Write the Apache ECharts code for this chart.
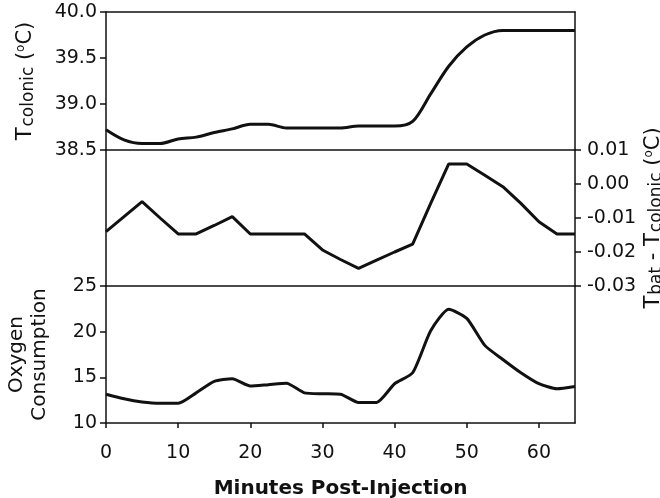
<!DOCTYPE html>
<html>
<head>
<meta charset="utf-8">
<script src="https://cdn.jsdelivr.net/npm/echarts@6/dist/echarts.min.js"></script>
<style>
html,body{margin:0;padding:0;background:#fff;}
#c{width:660px;height:498px;}
</style>
</head>
<body>
<div id="c"></div>
<script>
// ---- data ----
const minutes = [0, 2.5, 5, 7.5, 10, 12.5, 15, 17.5, 20, 22.5, 25, 27.5, 30, 32.5, 35, 37.5, 40, 42.5, 45, 47.5, 50, 52.5, 55, 57.5, 60, 62.5, 65];
const tColonic = [38.72, 38.61, 38.57, 38.57, 38.62, 38.64, 38.69, 38.73, 38.78, 38.78, 38.74, 38.74, 38.74, 38.74, 38.76, 38.76, 38.76, 38.81, 39.11, 39.41, 39.62, 39.75, 39.80, 39.80, 39.80, 39.80, 39.80];
const tBatMinusColonic = [-0.0140, -0.0096, -0.0052, -0.0100, -0.0147, -0.0147, -0.0122, -0.0096, -0.0147, -0.0147, -0.0147, -0.0147, -0.0194, -0.0222, -0.0248, -0.0224, -0.0200, -0.0177, -0.0057, 0.0059, 0.0059, 0.0026, -0.0008, -0.0057, -0.0111, -0.0147, -0.0147];
const oxygen = [13.15, 12.65, 12.30, 12.15, 12.15, 13.30, 14.55, 14.85, 14.05, 14.20, 14.35, 13.30, 13.20, 13.15, 12.25, 12.25, 14.30, 15.50, 20.10, 22.45, 21.45, 18.50, 16.95, 15.50, 14.30, 13.75, 14.00];

const xTicks = [0, 10, 20, 30, 40, 50, 60];
const xRange = [0, 65];
const tColonicTicks = [38.5, 39.0, 39.5, 40.0];
const tDiffTicks = [-0.03, -0.02, -0.01, 0.00, 0.01];
const oxygenTicks = [10, 15, 20, 25];

const xTitle = 'Minutes Post-Injection';
const topTitle = '{m|T}{s|colonic}{m| (}{p|o}{m|C)}';
const midTitle = '{m|T}{s|bat}{m| - T}{s|colonic}{m| (}{p|o}{m|C)}';
const botTitle = 'Oxygen\nConsumption';

// ---- styles ----
const INK = '#111';
const FONT = 'DejaVu Sans';
const AX = {lineStyle: {color: INK, width: 1.5}};
const richName = {
  m: {fontSize: 21, fontFamily: FONT, color: INK},
  s: {fontSize: 17, fontFamily: FONT, color: INK, padding: [6, 0, 0, 1]},
  p: {fontSize: 12, fontFamily: FONT, color: INK, padding: [0, 0, 10, 0]}
};

function plainX(grid, pos) {
  return {type: 'value', gridIndex: grid, position: pos, min: xRange[0], max: xRange[1],
    axisLine: {show: true, onZero: false, ...AX}, axisTick: {show: false}, axisLabel: {show: false}, splitLine: {show: false}};
}
function plainY(grid, pos, ticks) {
  return {type: 'value', gridIndex: grid, position: pos, min: ticks[0], max: ticks[ticks.length - 1],
    axisLine: {show: true, onZero: false, ...AX}, axisTick: {show: false}, axisLabel: {show: false}, splitLine: {show: false}};
}
function tickY(grid, pos, ticks, digits, margin) {
  return {type: 'value', gridIndex: grid, position: pos, min: ticks[0], max: ticks[ticks.length - 1],
    axisLine: {show: true, onZero: false, ...AX},
    axisTick: {show: true, length: 6, inside: false, customValues: ticks, lineStyle: {color: INK, width: 1.5}},
    axisLabel: {show: true, customValues: ticks, margin: margin, fontSize: 19, fontFamily: FONT, color: INK,
      formatter: v => (Math.abs(v) < 1e-9 ? 0 : v).toFixed(digits)},
    splitLine: {show: false}};
}

const chart = echarts.init(document.getElementById('c'), null, {renderer: 'canvas'});

const yTop = tickY(0, 'left', tColonicTicks, 1, 9);
Object.assign(yTop, {name: topTitle, nameLocation: 'middle', nameRotate: 90, nameGap: 69, nameMoveOverlap: false,
  nameTextStyle: {rich: richName}});
const yMid = tickY(1, 'right', tDiffTicks, 2, 12);
Object.assign(yMid, {name: midTitle, nameLocation: 'middle', nameRotate: 90, nameGap: 67, nameMoveOverlap: false,
  nameTextStyle: {rich: richName}});
const yBot = tickY(2, 'left', oxygenTicks, 0, 9);
Object.assign(yBot, {name: botTitle, nameLocation: 'middle', nameRotate: 90, nameGap: 55, nameMoveOverlap: false,
  nameTextStyle: {fontSize: 20, fontFamily: FONT, color: INK, lineHeight: 23}});

const xBottom = {type: 'value', gridIndex: 2, position: 'bottom', min: xRange[0], max: xRange[1],
  axisLine: {show: true, onZero: false, ...AX},
  axisTick: {show: true, length: 5, customValues: xTicks, lineStyle: {color: INK, width: 1.5}},
  axisLabel: {show: true, customValues: xTicks, margin: 21, fontSize: 19, fontFamily: FONT, color: INK},
  splitLine: {show: false},
  name: xTitle, nameLocation: 'middle', nameGap: 56, nameMoveOverlap: false,
  nameTextStyle: {fontSize: 20, fontWeight: 'bold', fontFamily: FONT, color: INK}};

const lineStyle = {color: INK, width: 3};
const gridBase = {left: 106, right: 85, containLabel: false, outerBoundsMode: 'none'};

chart.setOption({
  animation: false,
  backgroundColor: '#fff',
  grid: [
    {...gridBase, top: 12, height: 138},
    {...gridBase, top: 150, height: 136},
    {...gridBase, top: 286, height: 137}
  ],
  xAxis: [plainX(0, 'top'), plainX(0, 'bottom'), plainX(1, 'bottom'), xBottom],
  yAxis: [yTop, plainY(0, 'right', tColonicTicks), plainY(1, 'left', tDiffTicks), yMid, yBot, plainY(2, 'right', oxygenTicks)],
  series: [
    {type: 'line', xAxisIndex: 1, yAxisIndex: 0, data: minutes.map((m, i) => [m, tColonic[i]]),
      showSymbol: false, symbol: 'none', smooth: 0.3, lineStyle: lineStyle},
    {type: 'line', xAxisIndex: 2, yAxisIndex: 3, data: minutes.map((m, i) => [m, tBatMinusColonic[i]]),
      showSymbol: false, symbol: 'none', lineStyle: lineStyle},
    {type: 'line', xAxisIndex: 3, yAxisIndex: 4, data: minutes.map((m, i) => [m, oxygen[i]]),
      showSymbol: false, symbol: 'none', smooth: 0.2, lineStyle: lineStyle}
  ]
});
</script>
</body>
</html>
